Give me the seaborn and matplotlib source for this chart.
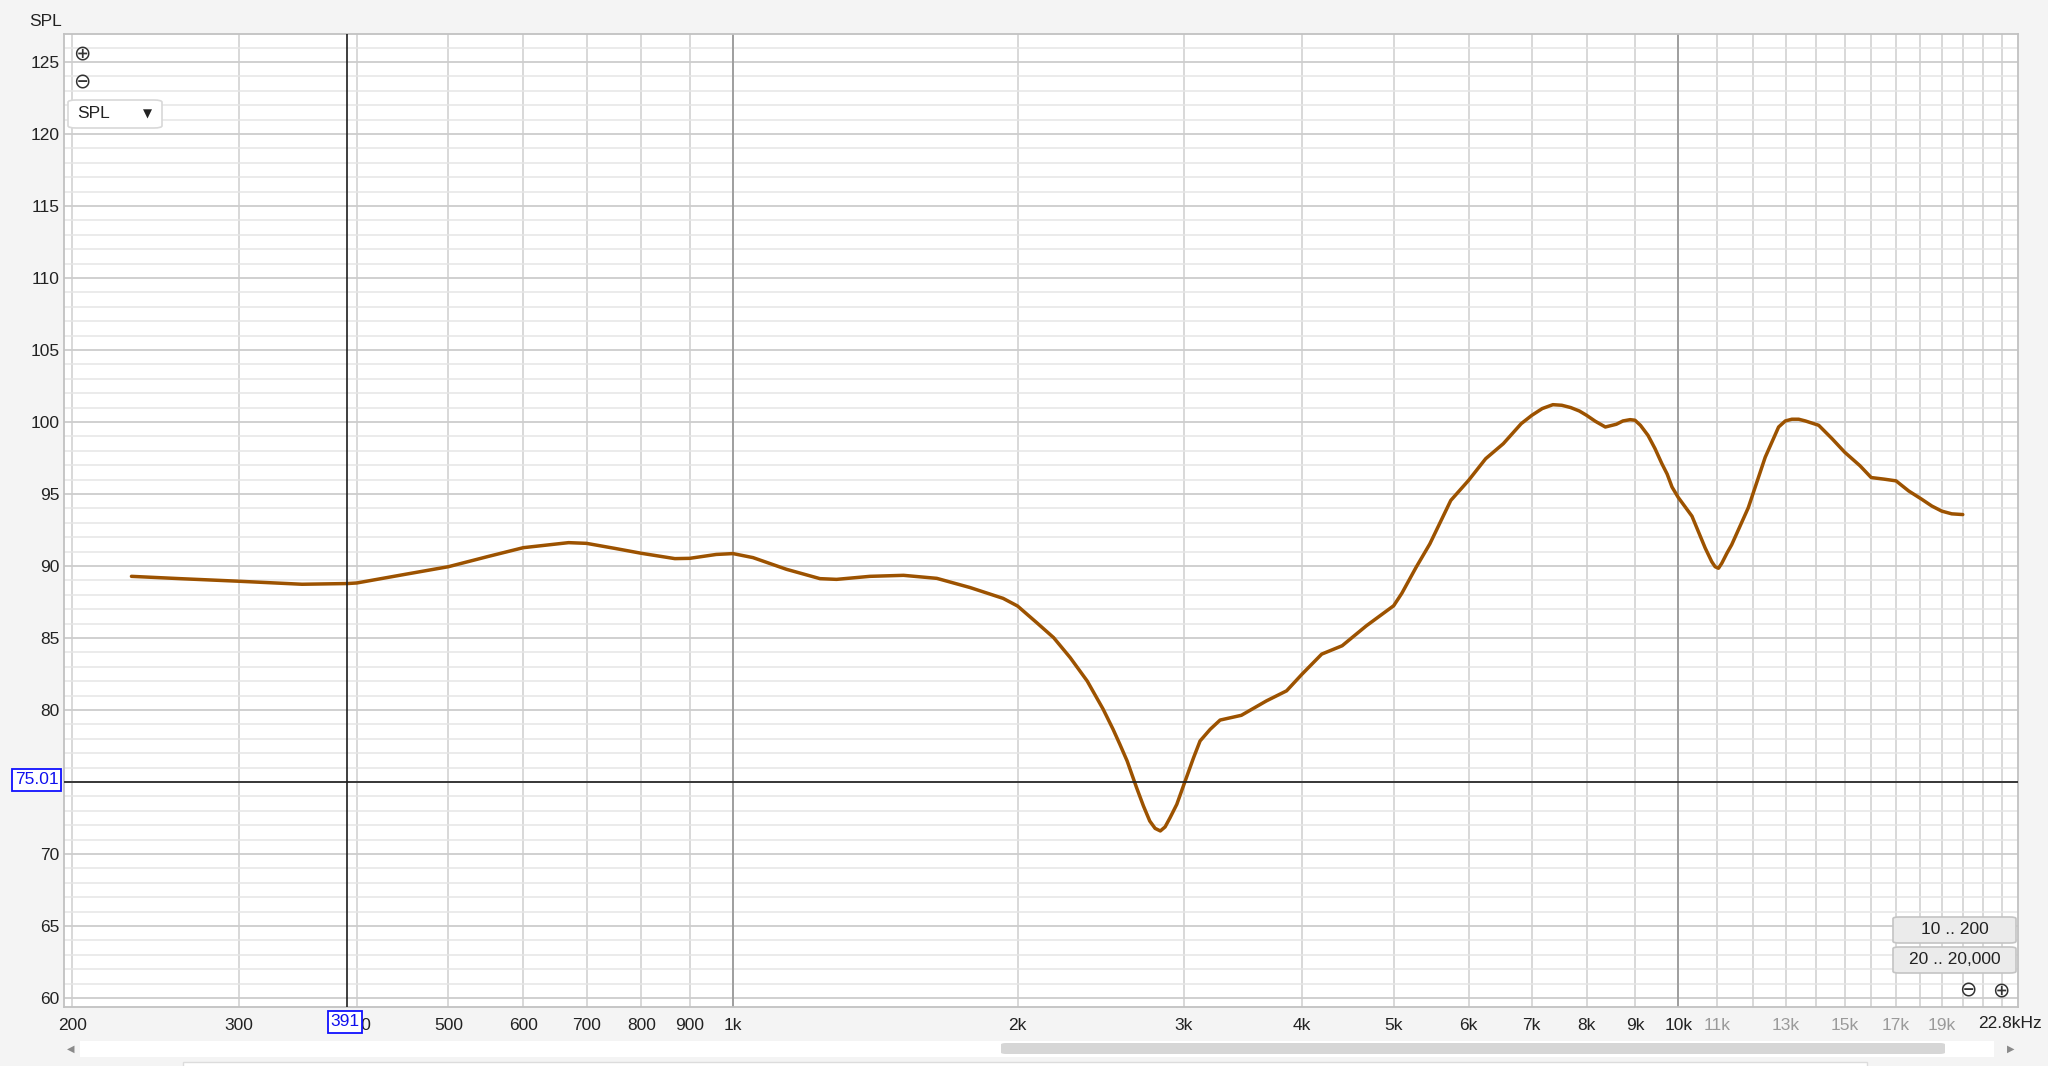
import numpy as np
import pandas as pd
import matplotlib
matplotlib.use("Agg")
import matplotlib.pyplot as plt
from matplotlib.patches import Rectangle, FancyBboxPatch
import seaborn as sns

# ---------------- data ----------------
freq_hz = [231, 260, 300, 350, 391, 400, 450, 500, 550, 600, 670, 700, 750, 800,
           868, 900, 960, 1000, 1050, 1139, 1236, 1287, 1396, 1515, 1643, 1782,
           1931, 2000, 2096, 2184, 2274, 2370, 2464, 2524, 2566, 2612, 2673, 2718,
           2760, 2796, 2832, 2865, 2900, 2948, 3000, 3071, 3120, 3198, 3276, 3450,
           3667, 3852, 4000, 4196, 4410, 4679, 5000, 5100, 5281, 5460, 5746, 6000,
           6256, 6530, 6821, 7000, 7180, 7369, 7530, 7696, 7860, 8000, 8170, 8373,
           8600, 8740, 8894, 9000, 9120, 9290, 9450, 9610, 9734, 9850, 10000, 10340,
           10680, 10850, 10940, 11030, 11120, 11260, 11390, 11860, 12360, 12770,
           12980, 13190, 13410, 13630, 14080, 14550, 15000, 15570, 16000, 16510,
           17000, 17530, 18100, 18550, 19000, 19470, 20000]
spl_db = [89.28, 89.12, 88.94, 88.73, 88.78, 88.82, 89.42, 89.95, 90.65, 91.27,
          91.62, 91.57, 91.22, 90.88, 90.51, 90.53, 90.80, 90.86, 90.58, 89.77,
          89.12, 89.07, 89.28, 89.35, 89.14, 88.50, 87.75, 87.22, 86.06, 85.02,
          83.63, 82.01, 80.05, 78.66, 77.62, 76.46, 74.60, 73.33, 72.29, 71.78,
          71.60, 71.88, 72.52, 73.45, 74.84, 76.69, 77.85, 78.66, 79.30, 79.63,
          80.63, 81.33, 82.49, 83.88, 84.46, 85.85, 87.24, 88.10, 89.91, 91.53,
          94.55, 95.94, 97.45, 98.49, 99.88, 100.46, 100.93, 101.20, 101.16,
          101.00, 100.76, 100.46, 100.05, 99.65, 99.84, 100.07, 100.16, 100.12,
          99.77, 99.07, 98.15, 97.10, 96.38, 95.48, 94.76, 93.46, 91.24, 90.30,
          89.95, 89.84, 90.19, 90.89, 91.47, 94.04, 97.55, 99.65, 100.07, 100.19,
          100.19, 100.07, 99.77, 98.83, 97.90, 96.96, 96.14, 96.03, 95.91, 95.21,
          94.63, 94.16, 93.81, 93.62, 93.57]

y_ticks = list(range(60, 126, 5))
x_tick_vals = [200, 300, 400, 500, 600, 700, 800, 900, 1000, 2000, 3000, 4000,
               5000, 6000, 7000, 8000, 9000, 10000, 11000, 13000, 15000, 17000, 19000]
x_tick_labels = ["200", "300", "400", "500", "600", "700", "800", "900", "1k", "2k",
                 "3k", "4k", "5k", "6k", "7k", "8k", "9k", "10k", "11k", "13k",
                 "15k", "17k", "19k"]
grey_labels = ["11k", "13k", "15k", "17k", "19k"]
x_minor_vals = [12000, 14000, 16000, 18000, 20000, 21000, 22000]
cursor_freq = 391
cursor_spl = 75.01
button_labels = ["10 .. 200", "20 .. 20,000"]

# ---------------- style ----------------
sns.set_style("white")
plt.rcParams["font.family"] = ["Liberation Sans", "DejaVu Sans"]

W, H = 2048, 1066
BG = "#f4f4f4"
FS = 12.5
fig = plt.figure(figsize=(W / 100, H / 100), dpi=100, facecolor=BG)


def fx(x):
    return x / W


def fy(y):
    return 1 - y / H


# plot area in pixels
L, R, T, B = 64, 2018, 34, 1007
ax = fig.add_axes([fx(L), fy(B), (R - L) / W, (B - T) / H])
ax.set_facecolor("white")

df = pd.DataFrame({"Frequency": freq_hz, "SPL": spl_db})
sns.lineplot(data=df, x="Frequency", y="SPL", ax=ax, color="#9c5200",
             linewidth=2.5, sort=True, zorder=5, solid_joinstyle="round",
             solid_capstyle="round")

ax.set_xscale("log")
ax.set_xlim(196, 22880)
ax.set_ylim(59.375, 126.94)

# y ticks and grid
ax.set_yticks(y_ticks)
ax.set_yticklabels([str(v) for v in y_ticks])
ax.set_yticks(range(60, 127), minor=True)
ax.grid(which="minor", axis="y", color="#e6e6e6", lw=1.1, zorder=0)
ax.grid(which="major", axis="y", color="#cdcdcd", lw=1.3, zorder=0)

# x ticks and grid
ax.set_xticks(x_tick_vals)
ax.set_xticklabels(x_tick_labels)
ax.set_xticks(x_minor_vals, minor=True)
ax.xaxis.set_minor_formatter(matplotlib.ticker.NullFormatter())
ax.grid(which="both", axis="x", color="#d2d2d2", lw=1.2, zorder=0)
for f in (1000, 10000):
    ax.axvline(f, color="#9a9a9a", lw=1.3, zorder=1)

ax.tick_params(axis="both", which="both", length=0)
ax.tick_params(axis="y", pad=3, labelsize=FS, labelcolor="#222222")
ax.tick_params(axis="x", pad=8, labelsize=FS, labelcolor="#222222")
for t in ax.get_xticklabels():
    if t.get_text() in grey_labels:
        t.set_color("#9a9a9a")

for s in ax.spines.values():
    s.set_color("#c2c2c2")
    s.set_linewidth(1.3)

ax.set_xlabel("")
ax.set_ylabel("")

# cursor lines
ax.axvline(cursor_freq, color="#1e1e1e", lw=1.2, zorder=6)
ax.axhline(cursor_spl, color="#1e1e1e", lw=1.2, zorder=6)

# ---------------- decorations in pixel coords ----------------
fig.text(fx(46), fy(21), "SPL", ha="center", va="center", fontsize=FS, color="#222222")
fig.text(fx(2042), fy(1023), "22.8kHz", ha="right", va="center", fontsize=FS, color="#222222")

# zoom icons
for (x, y, ch) in [(82, 53, "\u2295"), (82, 82, "\u2296"), (1968, 990, "\u2296"),
                   (2001, 990, "\u2295")]:
    fig.text(fx(x), fy(y), ch, ha="center", va="center", fontsize=15, color="#333333",
             family=["DejaVu Sans"], zorder=12)

# SPL dropdown
dd = FancyBboxPatch((fx(68), fy(128)), fx(162) - fx(68), fy(100) - fy(128),
                    boxstyle="round,pad=0,rounding_size=0.004",
                    transform=fig.transFigure, fc="white", ec="#d8d8d8", lw=1.2,
                    zorder=10, mutation_aspect=H / W)
fig.patches.append(dd)
fig.text(fx(94), fy(114), "SPL", ha="center", va="center", fontsize=FS, color="#222222",
         zorder=11)
fig.text(fx(147), fy(114), "\u25BC", ha="center", va="center", fontsize=8.5, color="#222222",
         zorder=11, family=["DejaVu Sans"])

# range buttons
for lab, (y0, y1) in zip(button_labels, [(917, 943), (947, 973)]):
    bt = FancyBboxPatch((fx(1893), fy(y1)), fx(2016) - fx(1893), fy(y0) - fy(y1),
                        boxstyle="round,pad=0,rounding_size=0.003",
                        transform=fig.transFigure, fc="#ebebeb", ec="#c4c4c4", lw=1.2,
                        zorder=10, mutation_aspect=H / W)
    fig.patches.append(bt)
    fig.text(fx(1954.5), fy((y0 + y1) / 2), lab, ha="center", va="center", fontsize=FS,
             color="#222222", zorder=11)

# cursor value boxes
for (x0, y0, x1, y1, lab) in [(12, 769, 61, 791, "75.01"), (328, 1011, 362, 1033, "391")]:
    rb = Rectangle((fx(x0), fy(y1)), fx(x1) - fx(x0), fy(y0) - fy(y1),
                   transform=fig.transFigure, fc="white", ec="#1010ff", lw=1.3, zorder=10)
    fig.patches.append(rb)
    fig.text(fx((x0 + x1) / 2), fy((y0 + y1) / 2), lab, ha="center", va="center",
             fontsize=FS, color="#1010ee", zorder=11)

# scrollbar
track = Rectangle((fx(80), fy(1057)), fx(1994) - fx(80), fy(1041) - fy(1057),
                  transform=fig.transFigure, fc="white", ec="none", zorder=2)
fig.patches.append(track)
thumb = FancyBboxPatch((fx(1001), fy(1054)), fx(1945) - fx(1001), fy(1043) - fy(1054),
                       boxstyle="round,pad=0,rounding_size=0.0027",
                       transform=fig.transFigure, fc="#d6d6d6", ec="none", zorder=3,
                       mutation_aspect=H / W)
fig.patches.append(thumb)
fig.text(fx(71), fy(1049), "\u25C0", ha="center", va="center", fontsize=7, color="#8a8a8a",
         family=["DejaVu Sans"])
fig.text(fx(2011), fy(1049), "\u25B6", ha="center", va="center", fontsize=7, color="#8a8a8a",
         family=["DejaVu Sans"])
panel = Rectangle((fx(183), fy(1068)), fx(1867) - fx(183), fy(1062) - fy(1068),
                  transform=fig.transFigure, fc="white", ec="#dcdcdc", lw=1.0, zorder=2)
fig.patches.append(panel)

fig.savefig("out.png", dpi=100, facecolor=BG)
